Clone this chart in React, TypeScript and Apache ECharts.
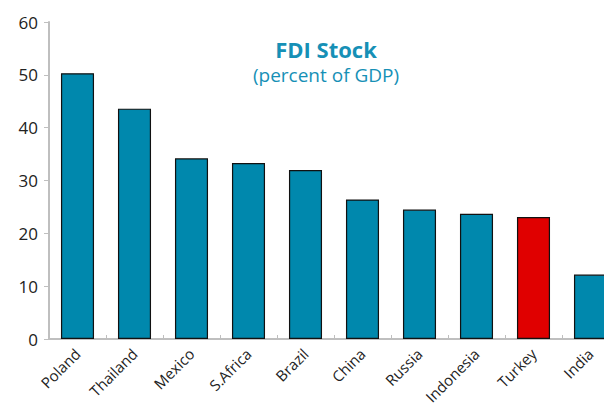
import React, { useEffect, useRef } from "react";
import * as echarts from "echarts";

const categories = ["Poland", "Thailand", "Mexico", "S.Africa", "Brazil", "China", "Russia", "Indonesia", "Turkey", "India"];
const values = [50.3, 43.6, 34.2, 33.3, 32.0, 26.4, 24.5, 23.7, 23.1, 12.2];
const highlight = "Turkey";
const yTicks = { min: 0, max: 60, interval: 10 };

const FONT = "'Open Sans', 'Noto Sans', sans-serif";

export default function App() {
  const ref = useRef<HTMLDivElement>(null);
  useEffect(() => {
    document.body.style.margin = "0";
    document.body.style.overflow = "hidden";
    const chart = echarts.init(ref.current!, null, { renderer: "svg" });
    chart.setOption({
      animation: false,
      backgroundColor: "#ffffff",
      textStyle: { fontFamily: FONT },
      title: {
        text: "FDI Stock",
        subtext: "(percent of GDP)",
        left: 321,
        textAlign: "center",
        top: 33,
        itemGap: 5,
        textStyle: { fontFamily: FONT, fontSize: 22, fontWeight: "bold", color: "#1690b6" },
        subtextStyle: { fontFamily: FONT, fontSize: 19, color: "#1690b6" },
      },
      grid: { left: 49, top: 22, bottom: 69, width: 570, containLabel: false, outerBoundsMode: "none" },
      xAxis: {
        type: "category",
        data: categories,
        axisLine: { show: true, lineStyle: { color: "#bfbfbf", width: 2 } },
        axisTick: { show: true, inside: true, length: 4, lineStyle: { color: "#bfbfbf" } },
        axisLabel: { rotate: 45, fontSize: 15, color: "#222", margin: 12, fontFamily: FONT },
      },
      yAxis: {
        type: "value",
        min: yTicks.min,
        max: yTicks.max,
        interval: yTicks.interval,
        splitLine: { show: false },
        axisLine: { show: true, lineStyle: { color: "#bfbfbf", width: 2 } },
        axisTick: { show: true, inside: false, length: 5, lineStyle: { color: "#bfbfbf" } },
        axisLabel: { fontSize: 17, color: "#222", margin: 11, fontFamily: FONT },
      },
      series: [
        {
          type: "bar",
          data: values.map((v, i) => ({
            value: v,
            itemStyle: { color: categories[i] === highlight ? "#e00000" : "#0088ad" },
          })),
          barCategoryGap: "42%",
          itemStyle: { borderColor: "#111", borderWidth: 1.2 },
        },
      ],
    });
    return () => chart.dispose();
  }, []);
  return (
    <div style={{ width: 604, height: 408, overflow: "hidden", position: "relative" }}>
      <div ref={ref} style={{ width: 624, height: 408 }} />
    </div>
  );
}
